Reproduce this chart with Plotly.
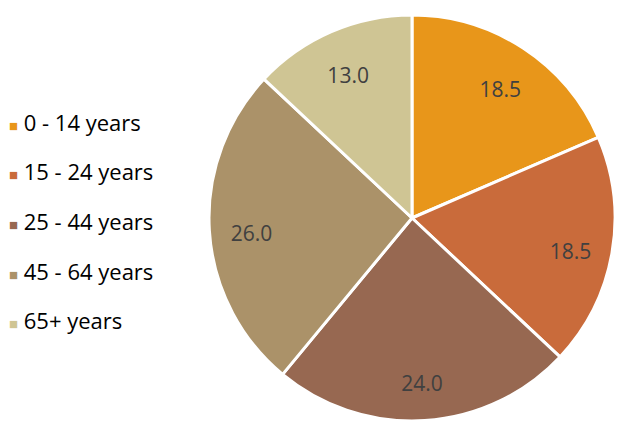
import plotly.graph_objects as go

age_groups = ["0 - 14 years", "15 - 24 years", "25 - 44 years", "45 - 64 years", "65+ years"]
shares = [18.5, 18.5, 24.0, 26.0, 13.0]
colors = ["#E8961A", "#C96B3B", "#976851", "#AB9269", "#CFC594"]

W, H = 621, 424
pie_domain = dict(x=[209 / W, 615 / W], y=[3 / H, 409 / H])
# label ring sits a few px lower so the numbers land where Excel puts them
label_domain = dict(x=[211 / W, 613 / W], y=[0, 402 / H])

fig = go.Figure()

# coloured slices
fig.add_trace(go.Pie(
    labels=age_groups,
    values=shares,
    sort=False,
    direction="clockwise",
    rotation=0,
    marker=dict(colors=colors, line=dict(color="white", width=3)),
    textinfo="none",
    domain=pie_domain,
    showlegend=False,
    hoverinfo="label+value",
))

# transparent ring on top, only to push the value labels outwards
fig.add_trace(go.Pie(
    labels=age_groups,
    values=shares,
    sort=False,
    direction="clockwise",
    rotation=0,
    hole=0.6,
    marker=dict(colors=["rgba(0,0,0,0)"] * len(shares), line=dict(width=0)),
    texttemplate="%{value:.1f}",
    textposition="inside",
    insidetextorientation="horizontal",
    textfont=dict(family="Open Sans", size=21, color="#404040"),
    domain=label_domain,
    showlegend=False,
    hoverinfo="skip",
))

# legend entries, square drawn in the label text so the gap matches
for name, col in zip(age_groups, colors):
    fig.add_trace(go.Scatter(
        x=[None], y=[None], mode="markers", legendgroup=name,
        name=f"<span style='color:{col};font-size:15px'>■</span> {name}",
        marker=dict(size=1, opacity=0),
    ))

fig.update_xaxes(visible=False)
fig.update_yaxes(visible=False)
fig.update_layout(
    width=W, height=H,
    margin=dict(l=0, r=0, t=0, b=0, autoexpand=False),
    paper_bgcolor="white", plot_bgcolor="white",
    legend=dict(
        x=-0.05, y=0.478, xanchor="left", yanchor="middle",
        font=dict(family="Open Sans", size=22, color="#000000"),
        tracegroupgap=18, itemwidth=30,
    ),
)

fig.write_html("out.html", config={"displayModeBar": False},
               post_script="document.body.style.margin='0';")
